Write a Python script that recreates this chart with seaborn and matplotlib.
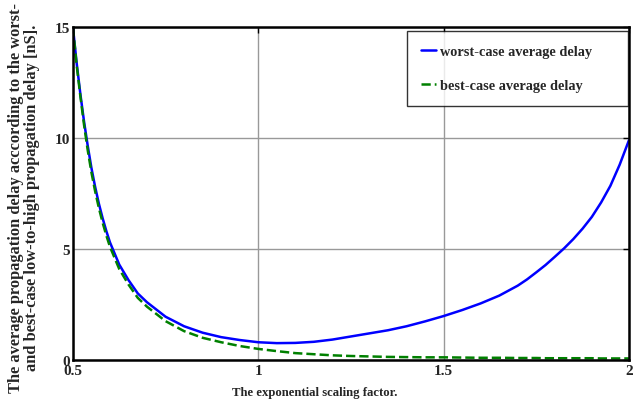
import numpy as np
import pandas as pd
import matplotlib
matplotlib.use("Agg")
import matplotlib.pyplot as plt
import seaborn as sns

# values
scaling = [0.50, 0.51, 0.52, 0.53, 0.54, 0.55, 0.56, 0.57, 0.58, 0.59,
           0.60, 0.625, 0.65, 0.675, 0.70, 0.75, 0.80, 0.85, 0.90, 0.95,
           1.00, 1.05, 1.10, 1.15, 1.20, 1.25, 1.30, 1.35, 1.40, 1.45,
           1.50, 1.55, 1.60, 1.65, 1.70, 1.725, 1.75, 1.775, 1.80, 1.825,
           1.85, 1.875, 1.90, 1.925, 1.95, 1.975, 2.00]
worst_delay = [15.0, 13.4, 12.0, 10.75, 9.65, 8.65, 7.8, 7.05, 6.4, 5.82,
               5.3, 4.3, 3.6, 3.0, 2.6, 1.95, 1.52, 1.23, 1.03, 0.90,
               0.80, 0.76, 0.77, 0.82, 0.92, 1.06, 1.20, 1.34, 1.52, 1.74,
               1.98, 2.25, 2.55, 2.90, 3.35, 3.63, 3.95, 4.28, 4.65, 5.03,
               5.45, 5.92, 6.45, 7.10, 7.85, 8.80, 9.90]
best_delay = [15.0, 13.3, 11.9, 10.6, 9.45, 8.45, 7.6, 6.85, 6.2, 5.62,
              5.1, 4.1, 3.4, 2.8, 2.4, 1.75, 1.30, 1.00, 0.80, 0.63,
              0.50, 0.40, 0.31, 0.26, 0.21, 0.18, 0.16, 0.14, 0.13, 0.12,
              0.12, 0.11, 0.10, 0.10, 0.09, 0.09, 0.09, 0.08, 0.08, 0.08,
              0.08, 0.08, 0.08, 0.07, 0.07, 0.07, 0.07]

x_ticks = [0.5, 1, 1.5, 2]
x_ticklabels = ["0.5", "1", "1.5", "2"]
y_ticks = [0, 5, 10, 15]

df = pd.DataFrame({"scaling": scaling,
                   "worst-case average delay": worst_delay,
                   "best-case average delay": best_delay})

sns.set_style("white")
plt.rcParams["font.family"] = ["Liberation Serif", "DejaVu Serif"]
plt.rcParams["font.weight"] = "bold"

fig = plt.figure(figsize=(6.34, 4.02), dpi=100)
ax = fig.add_axes([0.115, 0.102, 0.877, 0.828])

sns.lineplot(data=df, x="scaling", y="worst-case average delay", ax=ax,
             color="#0000ff", lw=1.8, label="worst-case average delay")
sns.lineplot(data=df, x="scaling", y="best-case average delay", ax=ax,
             color="#008000", lw=1.8, ls="--", label="best-case average delay")

ax.set_xlim(0.5, 2)
ax.set_ylim(0, 15)
ax.set_xticks(x_ticks)
ax.set_xticklabels(x_ticklabels)
ax.set_yticks(y_ticks)
ax.grid(True, color="#999999", lw=1.0)
ax.tick_params(direction="in", length=4, width=1, labelsize=11, pad=2,
               top=True, right=True, color="black")
ax.tick_params(axis="x", pad=3)
for lab in ax.get_xticklabels() + ax.get_yticklabels():
    lab.set_fontweight("bold")
for sp in ax.spines.values():
    sp.set_color("black")
    sp.set_linewidth(1.8)

ax.set_xlabel("The exponential scaling factor.", fontsize=9.2,
              fontweight="bold", labelpad=0)
ax.xaxis.set_label_coords(0.434, -0.078)
ax.set_ylabel("The average propagation delay acccording to the worst-\n"
              "and best-case low-to-high propagation delay [nS].",
              fontsize=11.8, fontweight="bold", linespacing=1.0)
ax.yaxis.set_label_coords(-0.06, 0.49)

leg = ax.legend(loc="upper left", bbox_to_anchor=(0.601, 0.775, 0.397, 0.213),
                mode="expand", fontsize=10.3, frameon=True, fancybox=False,
                edgecolor="black", labelspacing=1.5, handlelength=1.1,
                handletextpad=0.25, borderpad=0.95, borderaxespad=0.0)
leg.get_frame().set_linewidth(1.0)
for t in leg.get_texts():
    t.set_fontweight("bold")

fig.savefig("out.png", dpi=100)
